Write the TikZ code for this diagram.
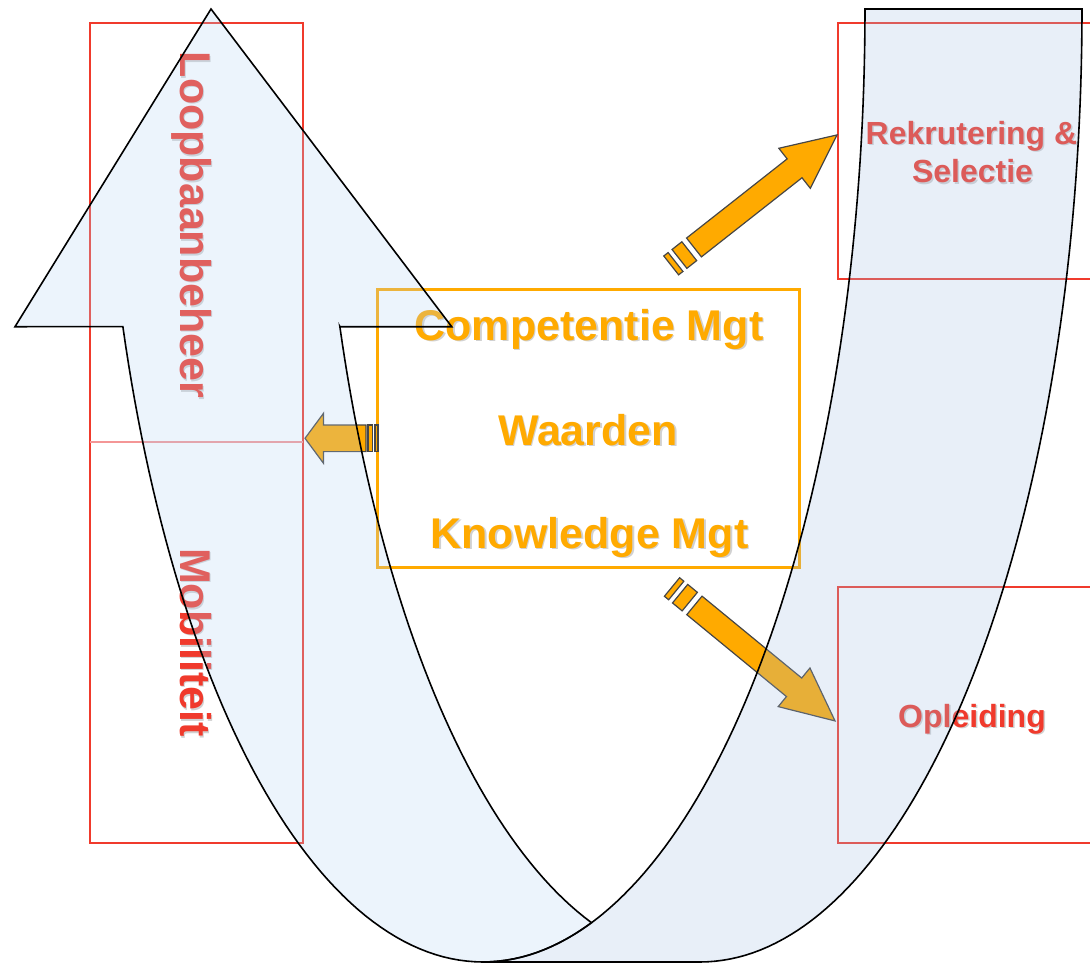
\documentclass[tikz,border=0pt]{standalone}
\usepackage{fontspec}
\setsansfont{Liberation Sans}
\definecolor{hrRed}{RGB}{240,58,44}
\definecolor{hrDivider}{RGB}{244,150,150}
\definecolor{hrOrange}{RGB}{255,170,0}
\definecolor{arrowEdge}{RGB}{70,70,70}
\definecolor{bandLeft}{RGB}{180,210,245}
\definecolor{bandRight}{RGB}{163,191,227}

% text with a soft drop shadow: options, name, position, text
\newcommand\shadowtext[4]{%
  \node[shift={(1.5,1.5)}, #1, text=black, opacity=.18] at (#3) {#4};
  \node[#1] (#2) at (#3) {#4};}

\tikzset{
  redbox/.style={draw=hrRed, line width=2.5pt, inner sep=0pt},
  corebox/.style={draw=hrOrange, line width=3pt, inner sep=0pt,
    minimum width=422pt, minimum height=278pt},
  redtext/.style={text=hrRed, inner sep=0pt,
    font=\sffamily\bfseries\fontsize{32}{38}\selectfont},
  bigred/.style={text=hrRed, inner sep=0pt,
    font=\sffamily\bfseries\fontsize{43}{50}\selectfont},
  coretext/.style={text=hrOrange, inner sep=0pt,
    font=\sffamily\bfseries\fontsize{43}{50}\selectfont},
  blockarrow/.style={fill=hrOrange, draw=arrowEdge, line width=1.2pt, line join=miter},
  band/.style={draw=black, line width=1.6pt, line join=miter, fill opacity=.25},
  % striped block arrow: length, head length, head half width, shaft half width,
  % end of first stripe, start/end of second stripe, start of shaft
  pics/stripearrow/.style n args={8}{code={
    \path[blockarrow] (0,-#4) rectangle (#5,#4);
    \path[blockarrow] (#6,-#4) rectangle (#7,#4);
    \path[blockarrow] (#8,-#4) -- ({#1-#2},-#4) -- ({#1-#2},-#3) -- (#1,0)
      -- ({#1-#2},#3) -- ({#1-#2},#4) -- (#8,#4) -- cycle;
  }}
}

\begin{document}
\begin{tikzpicture}[x=1pt,y=-1pt]
\useasboundingbox (0,0) rectangle (1090,962);
\clip (0,0) rectangle (1090,962);

% left column: career management / mobility
\node[redbox, minimum width=213pt, minimum height=820pt] (side) at (196.5,433) {};
\coordinate (divL) at (90,442);
\coordinate (divR) at (303,442);
\draw[hrDivider, line width=1.6pt] (divL) -- (divR);
\shadowtext{bigred, anchor=base, rotate=-90}{loop}{180,225}{Loopbaanbeheer}
\shadowtext{bigred, anchor=base, rotate=-90}{mobi}{180,642.5}{Mobiliteit}

% right column boxes
\node[redbox, minimum width=268pt, minimum height=256pt] (rek) at (972,151) {};
\node[redbox, minimum width=268pt, minimum height=256pt] (opl) at (972,715) {};
\shadowtext{redtext, anchor=base}{rek1}{971.5,144}{Rekrutering \&}
\shadowtext{redtext, anchor=base}{rek2}{972.5,182.7}{Selectie}
\shadowtext{redtext, anchor=base}{opltxt}{972,727}{Opleiding}

% central box
\node[corebox] (core) at (588,428) {};
\shadowtext{coretext, anchor=base}{comp}{589,340}{Competentie Mgt}
\shadowtext{coretext, anchor=base}{waar}{588,445}{Waarden}
\shadowtext{coretext, anchor=base}{know}{589.5,548}{Knowledge Mgt}

% striped arrows leaving the central box
\coordinate (a1) at (671.2,265.4);
\coordinate (a2) at (672,587);
\coordinate (a3) at (378,438.3);
\pic[rotate=38.2] at (a1) {stripearrow={211}{54}{25.5}{12}{5.5}{10.5}{23}{29}};
\pic[rotate=-39.4] at (a2) {stripearrow={211}{53}{25}{12}{5.5}{10.5}{23}{29}};
\pic[rotate=180] at (a3) {stripearrow={73}{18.5}{25}{13.3}{3}{5.5}{10}{12}};

% curved band: left arm with arrowhead
\filldraw[band, fill=bandLeft]
  (15,326.7) -- (211,9) -- (451.7,326.7) -- (339.9,326.7)
  -- plot[domain=19.47:73.5, samples=50] ({700-382*cos(\x)},{9+953*sin(\x)})
  -- plot[domain=73.5:90, samples=15] ({483+382*cos(\x)},{9+953*sin(\x)})
  -- plot[domain=90:19.47, samples=60] ({483-382*cos(\x)},{9+953*sin(\x)})
  -- cycle;

% curved band: right arm
\filldraw[band, fill=bandRight]
  (865,9) -- (1082,9)
  -- plot[domain=0:90, samples=80] ({700+382*cos(\x)},{9+953*sin(\x)})
  -- plot[domain=90:0, samples=80] ({483+382*cos(\x)},{9+953*sin(\x)})
  -- cycle;
\end{tikzpicture}
\end{document}
